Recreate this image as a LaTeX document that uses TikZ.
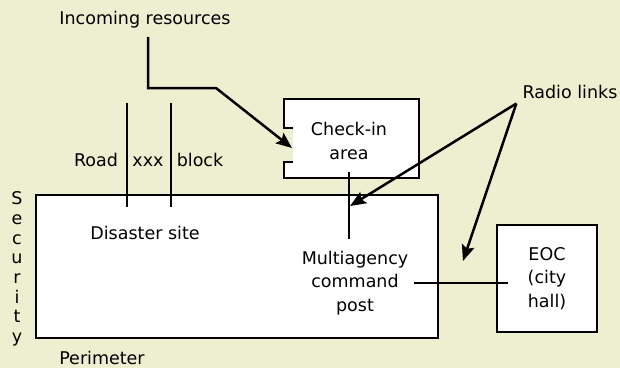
\documentclass[tikz,border=0pt]{standalone}
\usepackage{fontspec}
\setmainfont{DejaVu Sans}
\usetikzlibrary{positioning}
\usetikzlibrary{arrows.meta}
\definecolor{paper}{RGB}{238,239,208}

\begin{document}
\begin{tikzpicture}[x=1pt, y=-1pt, line width=2.5pt]
\tikzstyle{zone} = [rectangle, draw, fill=white, inner sep=0pt, align=center, font=\fontsize{17.5}{23.5}\selectfont]
\tikzstyle{txt} = [inner sep=0pt, align=center, font=\fontsize{17.5}{23.5}\selectfont]
\tikzstyle{arrow} = [-{Stealth[length=16pt, width=13pt, inset=3pt]}]

% background
\fill[paper] (0,0) rectangle (620,368);

\node (site) [zone, minimum width=402pt, minimum height=143pt] at (237,266.5) {};
\node (eoc) [zone, minimum width=100pt, minimum height=107pt] at (547,278.5) {EOC\\(city\\hall)};
% check-in area, open on the left
\draw[fill=white] (293,128) -- (284,128) -- (284,99) -- (419,99) -- (419,178) -- (284,178) -- (284,162) -- (293,162);
\coordinate (door) at (292,148);

% road block
\draw (127,103) -- (127,207);
\draw (171,103) -- (171,207);

\node (incoming) [txt, anchor=base] at (145,24) {Incoming resources};
\node (road) [txt, anchor=base] at (96,166) {Road};
\node (xxx) [txt, anchor=base] at (148,166) {xxx};
\node (block) [txt, anchor=base] at (200,166) {block};
\node (checkin) [txt] at (349,141) {Check-in\\area};
\node (radio) [txt, anchor=base] at (570,98) {Radio links};
\node (disaster) [txt, anchor=base] at (145,239) {Disaster site};
\node (cmd) [txt] at (355,283) {Multiagency\\command\\post};
\node (perimeter) [txt, anchor=base] at (102,364) {Perimeter};
\node (security) [txt, font=\fontsize{17.5}{19.7}\selectfont] at (17,269) {S\\e\\c\\u\\r\\i\\t\\y};

\coordinate (turn) at (216,88);
\coordinate (cmdtip) at (350,206);
\coordinate (field) at (463,261);
\coordinate (hub) at ([shift={(-5pt,-4pt)}]radio.south west);

\draw [arrow] ([shift={(3pt,-8pt)}]incoming.south) |- (turn) -- (door);
\draw ([yshift=-11pt]checkin.south) -- ++(0,67);
\draw [arrow] (hub) -- (cmdtip);
\draw [arrow] (hub) -- (field);
\draw ([xshift=5pt]cmd.east) -- ([xshift=12pt]cmd.east -| eoc.west);
\end{tikzpicture}
\end{document}
